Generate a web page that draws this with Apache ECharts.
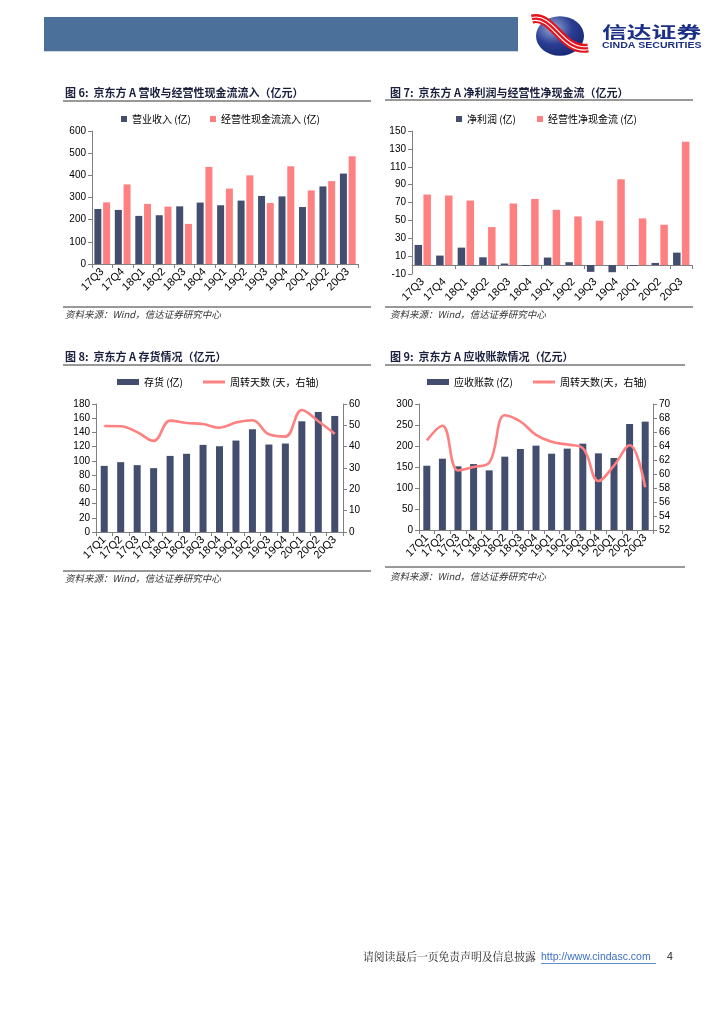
<!DOCTYPE html>
<html><head><meta charset="utf-8">
<script src="https://cdn.jsdelivr.net/npm/echarts@6/dist/echarts.min.js"></script>
<style>html,body{margin:0;padding:0;background:#fff;}#c{width:724px;height:1024px;}</style>
</head><body><div id="c"></div>
<script>
const cats1 = ['17Q3','17Q4','18Q1','18Q2','18Q3','18Q4','19Q1','19Q2','19Q3','19Q4','20Q1','20Q2','20Q3'];
const revenue = [248,244,217,220,260,277,265,286,307,305,257,350,408];
const cashInflow = [278,359,271,259,181,438,340,400,275,441,332,374,486];
const netProfit = [22.5,10.6,19.5,8.7,1.7,-1,8.4,3.2,-7.6,-8,-1,2.4,13.9];
const netCashFlow = [78.9,77.8,72.2,42.5,68.9,74,61.8,54.4,49.6,96,52.2,45.1,137.9];
const cats2 = ['17Q1','17Q2','17Q3','17Q4','18Q1','18Q2','18Q3','18Q4','19Q1','19Q2','19Q3','19Q4','20Q1','20Q2','20Q3'];
const inventory = [93,98.2,94,89.8,107,110,122.5,120.6,128.6,144.5,123,124.4,155.7,168.8,163.2];
const invDays = [49.7,49.6,46.8,42.7,52.2,51.1,50.6,48.9,51.3,52.4,45.8,44.7,57.2,51.9,46];
const receivables = [153,169.8,151.6,157,142,174.6,192.9,200.8,181.7,193.7,205.6,182.5,171.4,252.4,258];
const arDays = [64.8,66.9,60.5,61,61.6,68.4,67.5,65.6,64.6,64.2,63.7,59,61.2,64.1,58.1];

const NAVY = '#434D6E', PINK = '#FF8080';
const AX = '#808080';
const LAB = {fontFamily:'Liberation Sans', fontSize:10, color:'#000'};
const CJK = 'Noto Sans CJK SC';
const LINE_ICON = 'path://M0 0H22V3H0Z';

function yAx(grid, min, max, interval, pos) {
  return {type:'value', gridIndex:grid, min, max, interval, position:pos||'left',
    axisLine:{show:true, lineStyle:{color:AX}}, axisTick:{show:true, length:4, lineStyle:{color:AX}},
    splitLine:{show:false}, axisLabel:Object.assign({margin:6}, LAB)};
}
function xAx(grid, data, extra) {
  return Object.assign({type:'category', gridIndex:grid, data,
    axisLine:{show:true, onZero:true, lineStyle:{color:AX}}, axisTick:{show:true, length:4, lineStyle:{color:AX}},
    axisLabel:Object.assign({rotate:45, margin:6, interval:0}, LAB, {fontSize:11})}, extra||{});
}
function txt(x, y, t, font, fill, extra) {
  return Object.assign({type:'text', x, y, style:{text:t, font, fill, textVerticalAlign:'middle'}}, extra||{});
}
function hline(x1, x2, y, color, w) {
  return {type:'line', shape:{x1, y1:y, x2, y2:y}, style:{stroke:color, lineWidth:w||1}};
}
const titleFont = 'bold 11px "' + CJK + '"';
const srcFont = 'italic 9.5px "' + CJK + '"';
const legText = {fontFamily:CJK, fontSize:10, color:'#000'};

const option = {
  animation:false,
  backgroundColor:'#fff',
  grid:[
    {left:92, top:131, width:266, height:133},
    {left:412, top:131, width:280, height:143},
    {left:96, top:404, width:247, height:128},
    {left:419, top:404, width:234, height:126}
  ],
  legend:[
    {left:121, top:114, padding:0, itemWidth:6, itemHeight:6, itemGap:19, textStyle:legText, data:[{name:'营业收入 (亿)', icon:'rect'},{name:'经营性现金流流入 (亿)', icon:'rect'}]},
    {left:456, top:114, padding:0, itemWidth:6, itemHeight:6, itemGap:21, textStyle:legText, data:[{name:'净利润 (亿)', icon:'rect'},{name:'经营性净现金流 (亿)', icon:'rect'}]},
    {left:117, top:377, padding:0, itemWidth:22, itemHeight:6, itemGap:20, textStyle:legText, data:[{name:'存货 (亿)', icon:'rect'},{name:'周转天数 (天，右轴)', icon:LINE_ICON}]},
    {left:427, top:377, padding:0, itemWidth:22, itemHeight:6, itemGap:20, textStyle:legText, data:[{name:'应收账款 (亿)', icon:'rect'},{name:'周转天数(天，右轴)', icon:LINE_ICON}]}
  ],
  xAxis:[
    xAx(0, cats1),
    xAx(1, cats1, {axisLine:{show:false, onZero:false}, axisTick:{show:false}}),
    xAx(1, cats1, {axisLine:{show:true, onZero:true, lineStyle:{color:AX}}, axisTick:{show:true, length:4, lineStyle:{color:AX}}, axisLabel:{show:false}, position:'bottom'}),
    xAx(2, cats2),
    xAx(3, cats2)
  ],
  yAxis:[
    yAx(0, 0, 600, 100),
    yAx(1, -10, 150, 20),
    yAx(2, 0, 180, 20),
    yAx(2, 0, 60, 10, 'right'),
    yAx(3, 0, 300, 50),
    yAx(3, 52, 70, 2, 'right')
  ],
  series:[
    {type:'bar', name:'营业收入 (亿)', xAxisIndex:0, yAxisIndex:0, data:revenue, barWidth:7, barGap:'25%', itemStyle:{color:NAVY}},
    {type:'bar', name:'经营性现金流流入 (亿)', xAxisIndex:0, yAxisIndex:0, data:cashInflow, barWidth:7, barGap:'25%', itemStyle:{color:PINK}},
    {type:'bar', name:'净利润 (亿)', xAxisIndex:2, yAxisIndex:1, data:netProfit, barWidth:7.5, barGap:'18%', itemStyle:{color:NAVY}},
    {type:'bar', name:'经营性净现金流 (亿)', xAxisIndex:2, yAxisIndex:1, data:netCashFlow, barWidth:7.5, barGap:'18%', itemStyle:{color:PINK}},
    {type:'bar', name:'存货 (亿)', xAxisIndex:3, yAxisIndex:2, data:inventory, barWidth:7, itemStyle:{color:NAVY}},
    {type:'line', name:'周转天数 (天，右轴)', xAxisIndex:3, yAxisIndex:3, data:invDays, smooth:0.4, symbol:'none', lineStyle:{color:PINK, width:2.6}, itemStyle:{color:PINK}},
    {type:'bar', name:'应收账款 (亿)', xAxisIndex:4, yAxisIndex:4, data:receivables, barWidth:7, itemStyle:{color:NAVY}},
    {type:'line', name:'周转天数(天，右轴)', xAxisIndex:4, yAxisIndex:5, data:arDays, smooth:0.4, symbol:'none', lineStyle:{color:PINK, width:2.6}, itemStyle:{color:PINK}}
  ],
  graphic:[
    {type:'rect', shape:{x:44, y:17, width:474, height:34}, style:{fill:'#4B7099'}},
    hline(44, 518, 51.5, '#C8D6E6', 1),
    // logo
    {type:'circle', x:560, y:36, scaleY:0.82, shape:{cx:0, cy:0, r:24}, style:{fill:{type:'radial', x:0.35, y:0.3, r:0.9, colorStops:[{offset:0,color:'#9AAAD8'},{offset:0.45,color:'#2B3E93'},{offset:1,color:'#0E1C66'}]}}},
    {type:'bezierCurve', shape:{x1:532, y1:19, cpx1:553, cpy1:14, cpx2:562, cpy2:52, x2:588, y2:48}, style:{stroke:'#E3141E', lineWidth:9, fill:null}},
    {type:'bezierCurve', shape:{x1:532, y1:17.5, cpx1:554, cpy1:12.5, cpx2:563, cpy2:50.5, x2:588, y2:46.5}, style:{stroke:'#fff', lineWidth:1.1, fill:null}},
    {type:'bezierCurve', shape:{x1:532, y1:20.8, cpx1:552, cpy1:15.8, cpx2:561, cpy2:53.8, x2:588, y2:49.8}, style:{stroke:'#fff', lineWidth:1.1, fill:null}},
    txt(602, 31.5, '信达证券', 'bold 16px "' + CJK + '"', '#1B2F86', {scaleX:1.55, originX:0, originY:0}),
    txt(602, 45.5, 'CINDA SECURITIES', 'bold 9px "Liberation Sans"', '#1B2F86', {scaleX:1.17, originX:0, originY:0}),
    // titles
    txt(65, 93, '图 6:  京东方 A 营收与经营性现金流流入（亿元）', titleFont, '#1A1F3D'),
    hline(63, 371, 101, '#333', 1),
    txt(390, 93, '图 7:  京东方 A 净利润与经营性净现金流（亿元）', titleFont, '#1A1F3D'),
    hline(385, 693, 100, '#333', 1),
    txt(65, 357, '图 8:  京东方 A 存货情况（亿元）', titleFont, '#1A1F3D'),
    hline(63, 371, 365, '#333', 1),
    txt(390, 357, '图 9:  京东方 A 应收账款情况（亿元）', titleFont, '#1A1F3D'),
    hline(385, 685, 365, '#333', 1),
    // sources
    hline(63, 371, 307, '#333', 1),
    txt(65, 314, '资料来源：Wind，信达证券研究中心', srcFont, '#333'),
    hline(385, 693, 307, '#333', 1),
    txt(390, 314, '资料来源：Wind，信达证券研究中心', srcFont, '#333'),
    hline(63, 371, 571, '#333', 1),
    txt(65, 578, '资料来源：Wind，信达证券研究中心', srcFont, '#333'),
    hline(385, 685, 567, '#333', 1),
    txt(390, 576, '资料来源：Wind，信达证券研究中心', srcFont, '#333'),
    // footer
    txt(363, 957, '请阅读最后一页免责声明及信息披露', '10.8px "Noto Serif CJK SC", "' + CJK + '"', '#222'),
    txt(541, 957, 'http://www.cindasc.com', '10.5px "Liberation Sans"', '#3A6FC4'),
    hline(541, 656, 963.5, '#3A6FC4', 0.8),
    txt(667, 957, '4', '10.5px "Liberation Sans"', '#222')
  ]
};
const chart = echarts.init(document.getElementById('c'), null, {renderer:'canvas'});
chart.setOption(option);
</script></body></html>
